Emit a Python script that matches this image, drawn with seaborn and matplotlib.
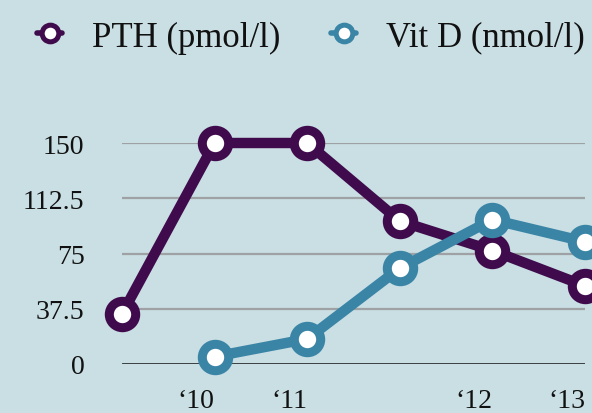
import matplotlib
matplotlib.use("Agg")
import matplotlib.pyplot as plt
from matplotlib.lines import Line2D
import numpy as np
import pandas as pd
import seaborn as sns

# data
idx = [0, 1, 2, 3, 4, 5]
tick_labels = ["", "\u201810", "\u201811", "", "\u201812", "\u201813"]
pth = [34, 150, 150, 97, 77, 53]
vitd = [np.nan, 5, 17, 65, 98, 83]
y_ticks = [0, 37.5, 75, 112.5, 150]
y_labels = ["0", "37.5", "75", "112.5", "150"]

purple = "#3f0b4c"
blue = "#3a84a6"
bg = "#c9dfe4"

sns.set_style("white")
plt.rcParams["font.family"] = ["Liberation Serif", "DejaVu Serif"]
plt.rcParams["text.color"] = "#111111"
plt.rcParams["xtick.color"] = "#111111"
plt.rcParams["ytick.color"] = "#111111"

df = pd.DataFrame({"idx": idx, "pth": pth, "vitd": vitd})

fig = plt.figure(figsize=(5.92, 4.14), dpi=100, facecolor=bg)
ax = fig.add_axes([122 / 592, 49 / 414, 463 / 592, 221 / 414])
ax.set_facecolor(bg)

for col, c in [("pth", purple), ("vitd", blue)]:
    d = df.dropna(subset=[col])
    sns.lineplot(data=d, x="idx", y=col, ax=ax, color=c, lw=7.5, marker="o",
                 markersize=19, markeredgewidth=6.5, markerfacecolor="white",
                 markeredgecolor=c, clip_on=False, zorder=3)

ax.set_xlim(0, 5)
ax.set_ylim(0, 150)
for v in y_ticks[1:]:
    ax.axhline(v, color="#9ea2a4", lw=1.6, zorder=1)
ax.axhline(0, color="#111111", lw=1.8, zorder=2)

ax.set_yticks(y_ticks)
ax.set_yticklabels(y_labels, fontsize=20)
ax.set_xticks(idx)
ax.set_xticklabels(tick_labels, fontsize=20, ha="right")
ax.tick_params(axis="y", length=0, pad=27)
ax.tick_params(axis="x", length=0, pad=17)
ax.set_xlabel("")
ax.set_ylabel("")
for s in ax.spines.values():
    s.set_visible(False)

handles = [
    Line2D([], [], color=purple, lw=4, marker="o", ms=12, mew=3.6,
           mfc="white", mec=purple),
    Line2D([], [], color=blue, lw=4, marker="o", ms=12, mew=3.6,
           mfc="white", mec=blue),
]
fig.legend(handles, ["PTH (pmol/l)", "Vit D (nmol/l)"], loc="center",
           bbox_to_anchor=(0.525, 1 - 38 / 414), ncol=2, frameon=False,
           fontsize=25, handlelength=0.72, handletextpad=0.85,
           columnspacing=1.48)

fig.savefig("out.png", dpi=100, facecolor=bg)
